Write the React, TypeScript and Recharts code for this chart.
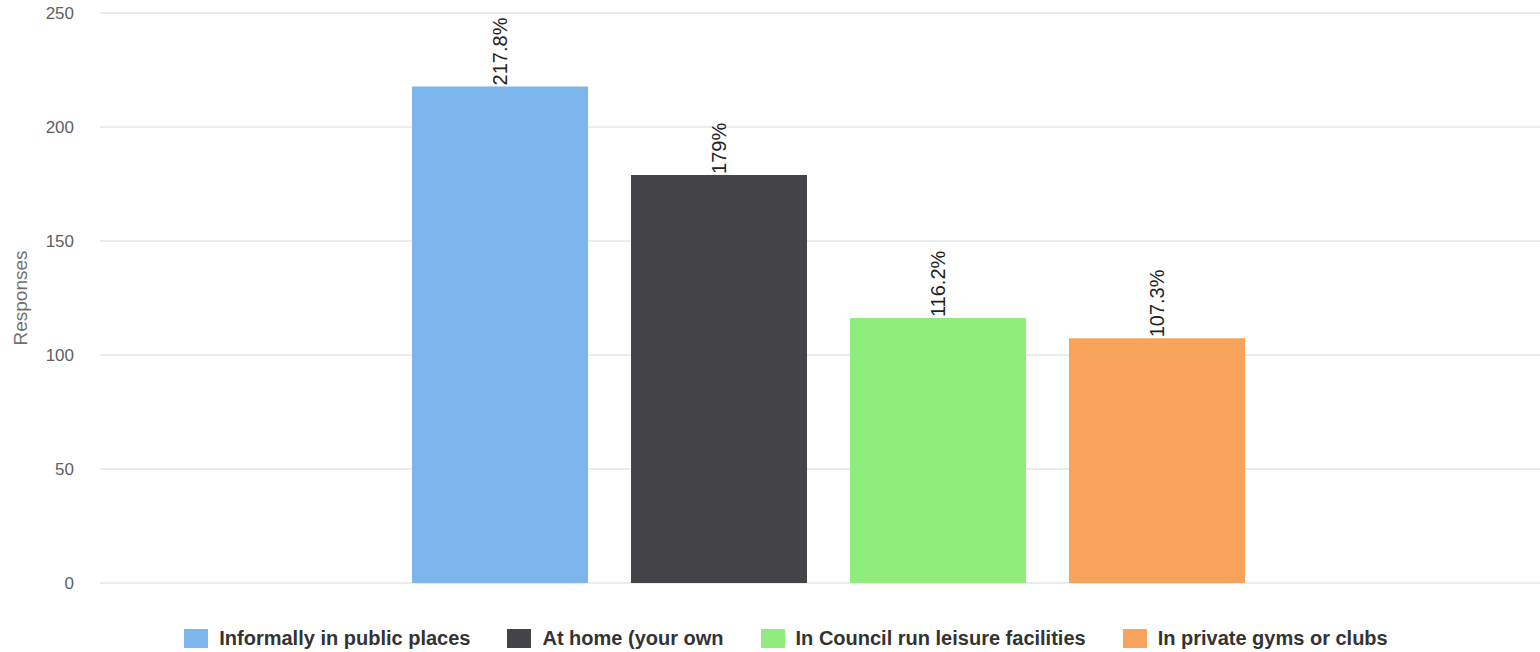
import React from 'react';
import { BarChart, Bar, XAxis, YAxis, CartesianGrid, Legend, LabelList } from 'recharts';

const seriesNames = [
  'Informally in public places',
  'At home (your own',
  'In Council run leisure facilities',
  'In private gyms or clubs',
];
const seriesKeys = ['s1', 's2', 's3', 's4'];
const seriesValues = [217.8, 179, 116.2, 107.3];
const valueLabels = ['217.8%', '179%', '116.2%', '107.3%'];
const seriesColors = ['#7cb5ec', '#434348', '#90ed7d', '#f7a35c'];
const yTicks = [0, 50, 100, 150, 200, 250];

const row: Record<string, number | string> = { name: '' };
seriesKeys.forEach((k, i) => {
  row[k] = seriesValues[i];
});
const data = [row];

const makeLabel = (text: string) => (props: any) => {
  const { x, y, width } = props;
  const cx = x + width / 2;
  const ly = y - 1;
  return (
    <text
      x={cx}
      y={ly}
      transform={`rotate(-90, ${cx}, ${ly})`}
      textAnchor="start"
      dominantBaseline="central"
      fill="#222"
      fontSize={20}
      fontFamily="'Liberation Sans', Arial, sans-serif"
    >
      {text}
    </text>
  );
};

const renderLegend = () => (
  <div
    style={{
      height: 69,
      display: 'flex',
      justifyContent: 'center',
      alignItems: 'flex-end',
      paddingBottom: 2,
      paddingLeft: 15,
      boxSizing: 'border-box',
      fontFamily: "'Liberation Sans', Arial, sans-serif",
    }}
  >
    {seriesNames.map((n, i) => (
      <div
        key={n}
        style={{
          display: 'flex',
          alignItems: 'center',
          marginRight: i < seriesNames.length - 1 ? 37 : 0,
        }}
      >
        <span
          style={{
            display: 'inline-block',
            width: 24,
            height: 19,
            background: seriesColors[i],
            marginRight: 11,
          }}
        />
        <span style={{ fontSize: 20, fontWeight: 'bold', color: '#333333', whiteSpace: 'nowrap' }}>{n}</span>
      </div>
    ))}
  </div>
);

export default function App() {
  return (
    <div
      style={{
        position: 'absolute',
        left: 0,
        top: 0,
        width: 1540,
        height: 652,
        overflow: 'hidden',
        background: '#fff',
      }}
    >
      <BarChart
        width={1557}
        height={652}
        data={data}
        margin={{ top: 13, right: 0, left: 0, bottom: 0 }}
        barGap={43}
      >
        <CartesianGrid horizontal vertical={false} stroke="#d8d8d8" />
        <XAxis
          dataKey="name"
          tick={false}
          tickLine={false}
          axisLine={{ stroke: '#c0d0e0' }}
          height={0}
        />
        <YAxis
          domain={[0, 250]}
          ticks={yTicks}
          axisLine={false}
          tickLine={false}
          tickSize={0}
          tickMargin={26}
          width={100}
          tick={{ fill: '#606060', fontSize: 17, fontFamily: "'Liberation Sans', Arial, sans-serif" }}
          label={{
            value: 'Responses',
            angle: -90,
            position: 'insideLeft',
            offset: 20,
            style: {
              textAnchor: 'middle',
              fill: '#707070',
              fontSize: 19,
              fontFamily: "'Liberation Sans', Arial, sans-serif",
            },
          }}
        />
        <Legend verticalAlign="bottom" content={renderLegend} />
        {seriesKeys.map((k, i) => (
          <Bar
            key={k}
            dataKey={k}
            name={seriesNames[i]}
            fill={seriesColors[i]}
            barSize={176}
            isAnimationActive={false}
          >
            <LabelList dataKey={k} content={makeLabel(valueLabels[i])} />
          </Bar>
        ))}
      </BarChart>
    </div>
  );
}
